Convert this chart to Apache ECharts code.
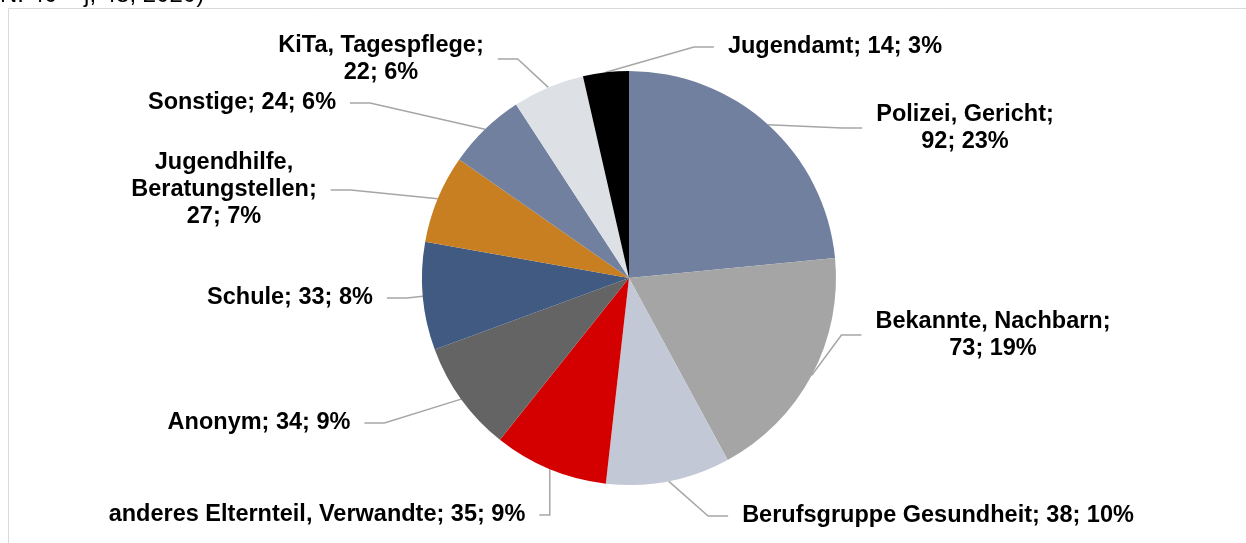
<!DOCTYPE html>
<html>
<head>
<meta charset="utf-8">
<script src="https://cdn.jsdelivr.net/npm/echarts@6/dist/echarts.min.js"></script>
<style>
    html, body { margin: 0; padding: 0; background: #fff; }
    #chart { width: 1246px; height: 543px; }
</style>
</head>
<body>
<div id="chart"></div>
<script>
    // Hinweisgeber (Anzahl)
    const categories = [
        "Polizei, Gericht",
        "Bekannte, Nachbarn",
        "Berufsgruppe Gesundheit",
        "anderes Elternteil, Verwandte",
        "Anonym",
        "Schule",
        "Jugendhilfe, Beratungstellen",
        "Sonstige",
        "KiTa, Tagespflege",
        "Jugendamt",
    ];
    const values = [92, 73, 38, 35, 34, 33, 27, 24, 22, 14];

    const colors = ["#71809f", "#a5a5a5", "#c3c8d6", "#d40000", "#646464",
        "#405a82", "#c87f22", "#71809f", "#dde1e6", "#000000"];

    // where each label sits (center of text block)
    const labelPos = [
        [965, 128], [993, 335], [938, 516], [317, 515], [259, 423],
        [290, 298], [224, 190], [242, 103], [381, 59], [835, 47],
    ];

    const chart = echarts.init(document.getElementById("chart"));

    const fmtLabel = (p) => {
        const tail = p.value + "; " + p.percent + "%";
        switch (p.dataIndex) {
            case 0:
            case 1:
            case 8:
                return p.name + ";\n" + tail;
            case 6:
                return p.name.replace(", ", ",\n") + ";\n" + tail;
            default:
                return p.name + "; " + tail;
        }
    };

    let options = {
        color: colors,
        graphic: [
            {
                type: "rect",
                shape: { x: 8.5, y: 8.5, width: 1300, height: 600 },
                style: { fill: null, stroke: "#d9d9d9", lineWidth: 1 },
                silent: true,
            },
            {
                type: "text",
                left: 0,
                top: -17,
                style: {
                    text: "N: 40 – j, 48, 2020)",
                    fontFamily: "Liberation Sans, Arial",
                    fontSize: 24,
                    fill: "#000",
                },
            },
        ],
        series: [
            {
                type: "pie",
                center: [629, 278],
                radius: 207,
                startAngle: 90,
                clockwise: true,
                avoidLabelOverlap: false,
                percentPrecision: 0,
                itemStyle: { borderWidth: 0 },
                emphasis: { disabled: true },
                label: {
                    show: true,
                    formatter: fmtLabel,
                    fontFamily: "Liberation Sans, Arial",
                    fontWeight: "bold",
                    fontSize: 23.5,
                    lineHeight: 27,
                    color: "#000",
                    align: "center",
                    padding: [2, 14],
                },
                labelLine: {
                    show: true,
                    length: 20,
                    length2: 20,
                    lineStyle: { color: "#a6a6a6", width: 1.5 },
                },
                labelLayout: (params) => {
                    const pos = labelPos[params.dataIndex];
                    return {
                        x: pos[0],
                        y: pos[1],
                        align: "center",
                        verticalAlign: "middle",
                    };
                },
                data: categories.map((name, i) => ({ name: name, value: values[i] })),
            },
        ],
    };

    chart.setOption(options);
</script>
</body>
</html>
